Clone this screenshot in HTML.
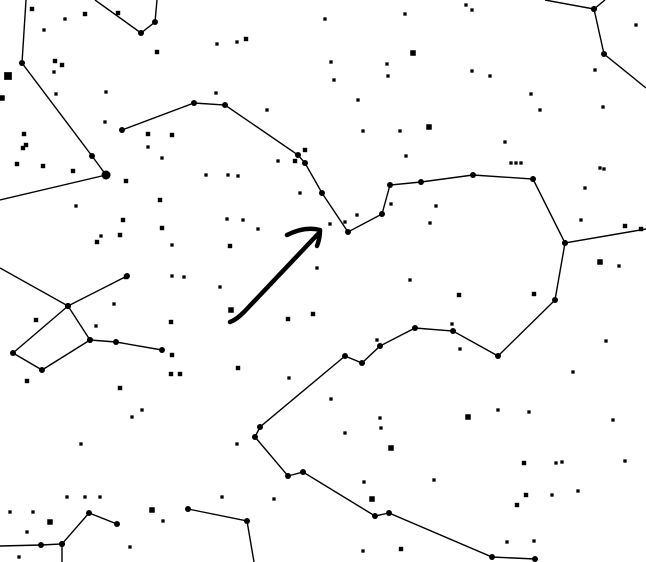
<!DOCTYPE html>
<html><head><meta charset="utf-8"><style>
html,body{margin:0;padding:0;background:#fff}
svg{display:block}
</style></head><body>
<svg id="chart" width="646" height="562" viewBox="0 0 646 562">
<rect width="646" height="562" fill="#fff"/>
<g id="lines"></g>
<g id="stars"></g>
<g fill="none" stroke="#000" stroke-width="4.5" stroke-linecap="round" stroke-linejoin="round">
<path d="M230,322 Q236,320 244,312 L318,234"/>
<path d="M287,235 Q305,226 320,230 Q320,238 317,246"/>
</g>
</svg>
<script>
const constellationLines = [
  [[26,0],[22,63],[92,156],[106,175]],
  [[0,200],[106,175]],
  [[95,0],[141,33],[155,22],[157,0]],
  [[122,130],[194,103],[225,105],[298,155],[305,163],[322,193],[348,232],[382,214],[390,185],[421,182],[473,175],[533,179],[565,243],[646,229]],
  [[545,0],[594,9],[604,54],[646,88]],
  [[594,9],[605,0]],
  [[565,243],[555,300],[498,356],[453,331],[415,328],[380,346],[362,363],[345,356],[260,427],[255,437],[288,476],[303,472],[375,516],[389,513],[492,557],[535,559]],
  [[0,268],[68,306],[127,276]],
  [[68,306],[90,340],[42,370],[13,353],[68,306]],
  [[90,340],[116,342],[162,350]],
  [[0,546],[41,545],[62,544],[89,513],[117,524]],
  [[62,544],[62,562]],
  [[188,509],[247,521],[254,562]]
];
const starX = [32,85,44,65,8,2,55,62,54,56,24,23,26,17,43,73,126,118,157,237,246,217,267,162,148,172,148,105,160,123,76,101,97,120,162,172,228,238,206,227,258,230,305,295,300,278,317,126,172,184,106,243,216,106,
325,405,466,472,413,331,334,387,388,472,490,358,531,540,363,429,400,406,505,511,516,521,595,636,603,600,604,585,641,581,625,600,619,345,357,391,436,430,410,330,
36,114,171,96,27,172,171,180,120,142,132,231,220,288,313,238,289,237,81,33,67,85,100,10,50,27,19,130,152,163,222,274,
459,534,331,380,381,345,391,468,498,529,573,613,556,562,524,625,364,372,526,552,578,517,434,507,534,363,401,452,460,377,606];
const starY = [9,14,30,19,76,98,61,65,72,94,134,148,145,164,166,171,181,13,52,42,39,44,110,158,147,135,134,122,200,220,206,236,242,235,228,245,175,176,175,219,229,246,150,161,193,161,268,277,276,277,92,220,93,175,
19,14,5,10,53,62,80,64,76,71,76,100,94,110,131,127,131,156,142,163,163,163,70,25,107,168,169,188,229,220,226,262,266,222,215,204,206,223,280,224,
320,304,322,326,381,355,374,374,388,410,417,310,287,319,314,368,378,444,444,512,497,497,497,512,522,532,557,547,510,521,497,499,
295,294,399,418,428,433,448,417,410,412,372,420,463,462,463,461,482,499,495,495,491,505,480,542,541,551,549,324,349,340,341];
const starMag = [2,2,1.5,1.5,3.5,2.5,2,2,1.5,1.5,2,2,2,2,2,2,2,2,2,1.5,2,1.5,1.5,1.5,1.5,2,2,1.5,2,2,1.5,1.5,2,2,2,1.5,1.5,1.5,1.5,1.5,1.5,2,2,2,1.5,1.5,1.5,2,1.5,1.5,1.5,1.5,1.5,2,
1.5,1.5,1.5,1.5,2.5,1.5,1.5,1.5,1.5,1.5,1.5,1.5,1.5,1.5,1.5,2.5,1.5,1.5,1.5,1.5,1.5,1.5,1.5,1.5,1.5,1.5,1.5,1.5,2,1.5,2,2.5,1.5,1.5,1.5,1.5,1.5,1.5,1.5,1.5,
2,1.5,2,1.5,2,2,2,2,2,1.5,1.5,2.5,1.5,2,2,2,1.5,1.5,1.5,1.5,1.5,1.5,1.5,1.5,2.5,1.5,1.5,1.5,2.5,1.5,1.5,1.5,
2,2,1.5,1.5,1.5,1.5,2.5,2.5,1.5,1.5,1.5,1.5,1.5,1.5,2,1.5,1.5,2.5,2,1.5,1.5,2,1.5,1.5,1.5,1.5,2,1.5,1.5,1.5,1.5];

const NS = 'http://www.w3.org/2000/svg';
const gL = document.getElementById('lines');
const gS = document.getElementById('stars');
function square(x, y, r) {
  const s = document.createElementNS(NS, 'rect');
  s.setAttribute('x', x - r); s.setAttribute('y', y - r);
  s.setAttribute('width', 2 * r); s.setAttribute('height', 2 * r);
  s.setAttribute('fill', '#000');
  return s;
}
constellationLines.forEach((pts, i) => {
  const pl = document.createElementNS(NS, 'polyline');
  pl.setAttribute('points', pts.map(p => p.join(',')).join(' '));
  pl.setAttribute('fill', 'none');
  pl.setAttribute('stroke', '#000');
  pl.setAttribute('stroke-width', '1.4');
  
  
  gL.appendChild(pl);
  pts.forEach(p => {
    if (p[0] <= 0 || p[0] >= 646 || p[1] <= 0 || p[1] >= 562) return;
    const c = document.createElementNS(NS, 'circle');
    c.setAttribute('cx', p[0]); c.setAttribute('cy', p[1]); c.setAttribute('r', 3);
    c.setAttribute('fill', '#000');
    
    
    gS.appendChild(c);
  });
});
starX.forEach((x, i) => {
  const c = square(x, starY[i], starMag[i] * 1.1);
  
  
  gS.appendChild(c);
});
const big = document.createElementNS(NS, 'circle');
big.setAttribute('cx', 106); big.setAttribute('cy', 175); big.setAttribute('r', 4.5); big.setAttribute('fill', '#000');


gS.appendChild(big);
</script>
</body></html>
